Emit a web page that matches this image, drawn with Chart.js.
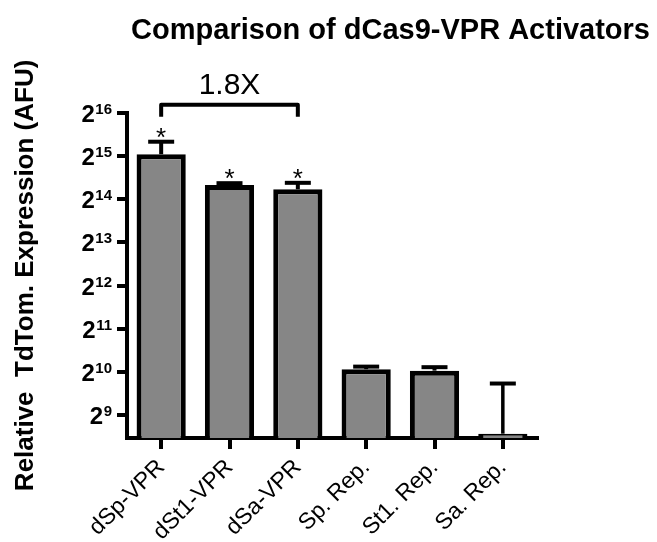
<!DOCTYPE html>
<html><head><meta charset="utf-8">
<script src="https://cdn.jsdelivr.net/npm/chart.js@4.4.1/dist/chart.umd.min.js"></script>
<style>html,body{margin:0;padding:0;background:#fff;overflow:hidden}</style>
</head><body>
<canvas id="c" width="657" height="542" style="display:block;width:657px;height:542px"></canvas>
<script>
// ---- data ----
const categories = ['dSp-VPR', 'dSt1-VPR', 'dSa-VPR', 'Sp. Rep.', 'St1. Rep.', 'Sa. Rep.'];
const meanAFU = [33700, 20600, 19200, 1070, 1045, 380];
const upperErrorAFU = [7500, 580, 2100, 45, 60, 470];
const significant = [true, true, true, false, false, false];
const yTickExponents = [9, 10, 11, 12, 13, 14, 15, 16];
const axisMinExponent = 8.47;
const axisMaxExponent = 16;
const foldLabel = '1.8X';
const bracketPair = [0, 2];
const titleText = 'Comparison of dCas9-VPR Activators';
const yTitleText = 'Relative  TdTom. Expression (AFU)';

const FONT = '"Liberation Sans", Arial, Helvetica, sans-serif';

const annotate = {
  id: 'annotate',
  afterDatasetsDraw(chart) {
    const ctx = chart.ctx;
    const y = chart.scales.y;
    const meta = chart.getDatasetMeta(0);
    ctx.save();
    ctx.strokeStyle = '#000';
    ctx.fillStyle = '#000';
    ctx.lineWidth = 4;
    ctx.lineCap = 'butt';
    meta.data.forEach((bar, i) => {
      const top = y.getPixelForValue(meanAFU[i] + upperErrorAFU[i]);
      const x = bar.x;
      ctx.lineWidth = i === 5 ? 3.5 : 4;
      ctx.beginPath();
      ctx.moveTo(x, bar.y);
      ctx.lineTo(x, top);
      ctx.stroke();
      ctx.lineWidth = 4;
      ctx.beginPath();
      ctx.moveTo(x - 13, top);
      ctx.lineTo(x + 13, top);
      ctx.stroke();
      if (significant[i]) {
        ctx.font = '26px ' + FONT;
        ctx.textAlign = 'center';
        ctx.textBaseline = 'alphabetic';
        ctx.fillText('*', x, top + 4);
      }
    });
    // bracket
    const x0 = meta.data[bracketPair[0]].x;
    const x1 = meta.data[bracketPair[1]].x;
    const by = chart.chartArea.top - 8;
    ctx.lineJoin = 'round';
    ctx.beginPath();
    ctx.moveTo(x0, by + 12);
    ctx.lineTo(x0, by);
    ctx.lineTo(x1, by);
    ctx.lineTo(x1, by + 12);
    ctx.stroke();
    ctx.font = '30px ' + FONT;
    ctx.textAlign = 'center';
    ctx.textBaseline = 'alphabetic';
    ctx.fillText(foldLabel, (x0 + x1) / 2, by - 11);
    ctx.restore();
  },
  afterDraw(chart) {
    const ctx = chart.ctx;
    const y = chart.scales.y;
    const right = chart.chartArea.left - 15;
    ctx.save();
    ctx.fillStyle = '#000';
    ctx.textBaseline = 'alphabetic';
    yTickExponents.forEach(e => {
      const py = y.getPixelForValue(Math.pow(2, e));
      const expStr = String(e);
      ctx.font = 'bold 15px ' + FONT;
      const w = ctx.measureText(expStr).width;
      ctx.textAlign = 'left';
      ctx.fillText(expStr, right - w, py + 1);
      ctx.font = 'bold 24px ' + FONT;
      ctx.textAlign = 'right';
      ctx.fillText('2', right - w - 0.5, py + 9);
    });
    ctx.restore();
  }
};

new Chart(document.getElementById('c'), {
  type: 'bar',
  data: {
    labels: categories,
    datasets: [{
      data: meanAFU,
      backgroundColor: '#868686',
      borderColor: '#000',
      borderWidth: 5,
      barPercentage: 0.72,
      categoryPercentage: 1
    }]
  },
  options: {
    responsive: false,
    animation: false,
    devicePixelRatio: 1,
    layout: { padding: { left: 0, right: 7, top: 0, bottom: 0 } },
    plugins: {
      legend: { display: false },
      tooltip: { enabled: false },
      title: {
        display: true, text: titleText, align: 'end', color: '#000',
        font: { family: FONT, size: 29, weight: 'bold' },
        padding: { top: 14, bottom: 64 }
      }
    },
    scales: {
      x: {
        type: 'category', offset: true,
        grid: { offset: false, drawOnChartArea: false, drawTicks: true, tickLength: 11, tickWidth: 4, lineWidth: 4, color: '#000', tickColor: '#000' },
        border: { display: true, color: '#000', width: 4 },
        ticks: { color: '#000', font: { family: FONT, size: 23 }, minRotation: 45, maxRotation: 45, autoSkip: false, padding: 5 },
        afterFit(s) { s.height = 104; }
      },
      y: {
        type: 'logarithmic', position: 'left', bounds: 'data',
        min: Math.pow(2, axisMinExponent), max: Math.pow(2, axisMaxExponent),
        grid: { drawOnChartArea: false, drawTicks: true, tickLength: 10, tickWidth: 4, lineWidth: 4, color: '#000', tickColor: '#000' },
        border: { display: true, color: '#000', width: 4 },
        ticks: { callback: () => '', padding: 0 },
        afterBuildTicks(s) { s.ticks = yTickExponents.map(e => ({ value: Math.pow(2, e) })); },
        title: { display: true, text: yTitleText, color: '#000', font: { family: FONT, size: 26, weight: 'bold' }, padding: { top: 10, bottom: 0 } },
        afterFit(s) { s.width = 127; }
      },
      yR: {
        type: 'linear', position: 'right', display: true,
        grid: { display: false, drawTicks: false }, border: { display: false },
        ticks: { display: false },
        afterFit(s) { s.width = 113; }
      }
    }
  },
  plugins: [annotate]
});
</script>
</body></html>
